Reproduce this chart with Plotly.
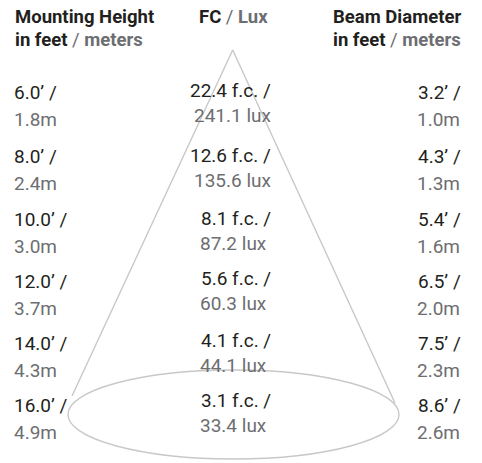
import plotly.graph_objects as go

# ---- data ----
mount_ft = ["6.0", "8.0", "10.0", "12.0", "14.0", "16.0"]
mount_m = ["1.8", "2.4", "3.0", "3.7", "4.3", "4.9"]
fc_vals = ["22.4", "12.6", "8.1", "5.6", "4.1", "3.1"]
lux_vals = ["241.1", "135.6", "87.2", "60.3", "44.1", "33.4"]
beam_ft = ["3.2", "4.3", "5.4", "6.5", "7.5", "8.6"]
beam_m = ["1.0", "1.3", "1.6", "2.0", "2.3", "2.6"]

# ---- layout constants (pixels) ----
W, H = 482, 463
FONT = "Roboto, Liberation Sans, sans-serif"
DARK = "#231f20"
GRAY = "#6d6e71"
LINE = "#c8c8c8"
FS_ROW = 19
FS_HEAD = 18.5

row_y_side = [92, 156, 219, 281, 343, 405]
row_dy = 27
row_y_mid = [90, 155, 218, 278, 340, 400]

apex = (232.7, 50)
left_end = (72, 396)
right_end = (395, 403)
ell = dict(x0=68, x1=399, y0=370, y1=459)

fig = go.Figure()
fig.add_trace(go.Scatter(
    x=[left_end[0], apex[0], right_end[0]],
    y=[left_end[1], apex[1], right_end[1]],
    mode="lines", line=dict(color=LINE, width=1.4), hoverinfo="skip", showlegend=False))
fig.add_shape(type="circle", xref="x", yref="y", line=dict(color=LINE, width=1.4), **ell)

ann = []

def add(x, y, text, anchor, color=DARK, size=FS_ROW):
    ann.append(dict(x=x, y=y, xref="x", yref="y", text=text, showarrow=False,
                    xanchor=anchor, yanchor="middle",
                    font=dict(family=FONT, size=size, color=color)))

slash = f"<span style='color:{GRAY}'> / </span>"
# headers
add(13, 17, "<b>Mounting Height</b>", "left", size=FS_HEAD)
add(13, 40, f"<b>in feet</b>{slash}<b><span style='color:{GRAY}'>meters</span></b>", "left", size=FS_HEAD)
add(233, 17, f"<b>FC</b>{slash}<b><span style='color:{GRAY}'>Lux</span></b>", "center", size=FS_HEAD)
add(463, 17, "<b>Beam Diameter</b>", "right", size=FS_HEAD)
add(463, 40, f"<b>in feet</b>{slash}<b><span style='color:{GRAY}'>meters</span></b>", "right", size=FS_HEAD)

for i in range(len(mount_ft)):
    add(12, row_y_side[i], f"{mount_ft[i]}’ /", "left")
    add(12, row_y_side[i] + row_dy, f"{mount_m[i]}m", "left", GRAY)
    add(273, row_y_mid[i], f"{fc_vals[i]} f.c. /", "right")
    add(233, row_y_mid[i] + 25, f"{lux_vals[i]} lux", "center", GRAY)
    add(463, row_y_side[i], f"{beam_ft[i]}’ /", "right")
    add(462, row_y_side[i] + row_dy, f"{beam_m[i]}m", "right", GRAY)

fig.update_layout(
    width=W, height=H, margin=dict(l=0, r=0, t=0, b=0),
    paper_bgcolor="white", plot_bgcolor="white",
    xaxis=dict(range=[0, W], visible=False, fixedrange=True),
    yaxis=dict(range=[H, 0], visible=False, fixedrange=True),
    annotations=ann,
)
fig.write_html("out.html", config={"displayModeBar": False},
               post_script="document.body.style.margin='0';")
